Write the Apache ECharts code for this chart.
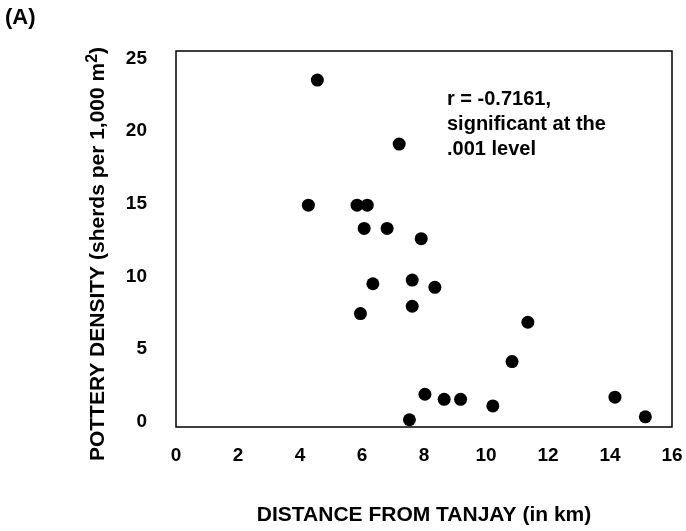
<!DOCTYPE html>
<html lang="en">
<head>
    <meta charset="UTF-8">
    <title>Pottery density vs distance from Tanjay</title>
    <style>
        html, body { margin: 0; padding: 0; background: #fff; }
        #chart { width: 686px; height: 531px; }
    </style>
</head>
<body>
<div id="chart"></div>
<script src="https://cdn.jsdelivr.net/npm/echarts@6/dist/echarts.min.js"></script>
<script>
    // distance from Tanjay (km) and pottery density (sherds per 1,000 m2)
    var distance = [4.56, 7.20, 4.27, 5.84, 6.17, 6.07, 6.81, 7.91, 6.35, 7.62, 8.35,
                    7.62, 5.95, 8.03, 8.65, 7.53, 11.35, 10.84, 9.18, 10.22, 14.16, 15.14];
    var density  = [23.5, 19.1, 14.9, 14.9, 14.9, 13.3, 13.3, 12.6, 9.5, 9.75, 9.25,
                    7.95, 7.45, 1.9, 1.55, 0.15, 6.85, 4.15, 1.55, 1.1, 1.7, 0.35];
    var yTicks = [0, 5, 10, 15, 20, 25];
    var note = ['r = -0.7161,', 'significant at the', '.001 level'];

    var points = distance.map(function (d, i) { return [d, density[i]]; });

    var font = "'Liberation Sans', Arial, sans-serif";
    var chart = echarts.init(document.getElementById('chart'));

    var option = {
        animation: false,
        grid: {
            left: 176, right: 14, top: 51, bottom: 103,
            show: true,
            borderColor: '#000',
            borderWidth: 1.5,
            backgroundColor: 'transparent'
        },
        xAxis: {
            type: 'value',
            min: 0, max: 16, interval: 2,
            name: 'DISTANCE FROM TANJAY (in km)',
            nameLocation: 'middle',
            nameGap: 78,
            nameTextStyle: { color: '#000', fontFamily: font, fontWeight: 'bold', fontSize: 21 },
            axisLine: { show: false },
            axisTick: { show: false },
            splitLine: { show: false },
            axisLabel: { color: '#000', fontFamily: font, fontWeight: 'bold', fontSize: 19, margin: 19 }
        },
        yAxis: {
            type: 'value',
            min: -0.35, max: 25.5,
            name: 'POTTERY DENSITY (sherds per 1,000 m{sup|2})',
            nameLocation: 'middle',
            nameGap: 64,
            nameTextStyle: {
                color: '#000', fontFamily: font, fontWeight: 'bold', fontSize: 21,
                padding: [0, 30, 0, 0],
                rich: {
                    sup: { fontFamily: font, fontWeight: 'bold', fontSize: 16, verticalAlign: 'bottom', padding: [0, 0, 11, 0] }
                }
            },
            axisLine: { show: false },
            axisTick: { show: false },
            splitLine: { show: false },
            axisLabel: {
                color: '#000', fontFamily: font, fontWeight: 'bold', fontSize: 19, margin: 29,
                customValues: yTicks
            }
        },
        graphic: [
            {
                type: 'text', left: 5, top: 7,
                style: { text: '(A)', fill: '#000', font: 'bold 22px ' + font }
            },
            {
                type: 'text', left: 447, top: 87,
                style: { text: note.join('\n'), fill: '#000', font: 'bold 20px ' + font, lineHeight: 25 }
            }
        ],
        series: [{
            type: 'scatter',
            data: points,
            symbol: 'circle',
            symbolSize: 13,
            itemStyle: { color: '#000', opacity: 1 }
        }]
    };

    chart.setOption(option);
</script>
</body>
</html>
